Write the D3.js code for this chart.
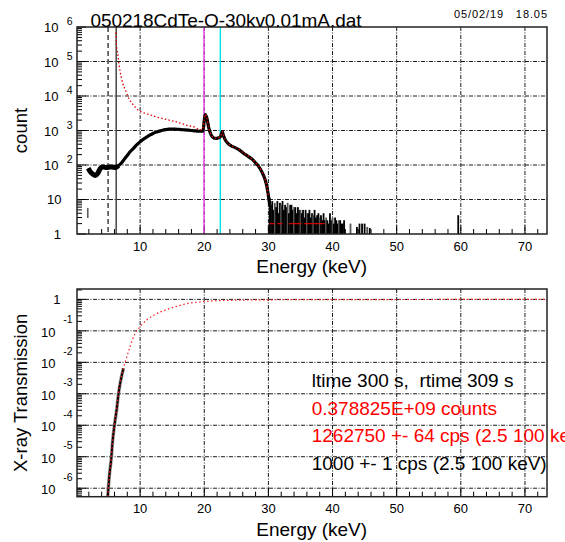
<!DOCTYPE html>
<html><head><meta charset="utf-8">
<script src="https://cdn.jsdelivr.net/npm/d3@7"></script>
<style>html,body{margin:0;padding:0;background:#fff;} svg{display:block;font-family:"Liberation Sans",Arial,Helvetica,sans-serif;} text{white-space:pre;}</style>
</head><body><svg id="c" width="565" height="542"></svg>
<script>
// ---------------- DATA ----------------
const spectrumE = [1.9,2.2,2.6,3.0,3.4,3.8,4.2,4.6,5.0,5.4,5.8,6.2,6.6,7.0,7.5,8.0,8.5,9.0,9.5,10.0,10.5,11.0,11.5,12.0,12.5,13.0,13.5,14.0,14.5,15.0,15.5,16.0,16.5,17.0,17.5,18.0,18.5,19.0,19.5,19.8,20.0,20.15,20.4,20.7,21.0,21.3,21.7,22.1,22.5,22.8,23.0,23.3,23.7,24.2,24.8,25.5,26.1,26.8,27.5,28.0,28.5,29.0,29.5,29.8,30.0,30.2];
const spectrumCounts = [80,65,55,50,58,80,88,85,85,88,86,85,95,110,145,190,250,310,390,470,560,640,730,820,900,960,1020,1060,1090,1100,1100,1080,1060,1040,1020,1000,980,960,950,960,2000,2900,2300,1200,800,650,590,600,650,930,700,520,420,360,320,270,220,180,145,115,90,62,37,22,13,7];
const correctedE = [6.22,6.28,6.4,6.53,6.7,6.88,7.1,7.3,7.7,8.0,8.4,8.7,9.2,9.7,10.3,11.3,12.3,13.4,14.5,15.5,16.5,17.5,18.5,19.1,19.7,20.0,20.15,20.4,20.7,21.0,21.3,21.7,22.1,22.5,22.8,23.0,23.3,23.7,24.2,24.8,25.5,26.1,26.8,27.5,28.0,28.5,29.0,29.5,29.8,30.0];
const correctedCounts = [700000,350000,220000,155000,85000,50000,33000,23000,15000,10700,7600,6200,4800,3900,3400,2950,2550,2240,2000,1800,1580,1380,1250,1100,1050,2000,2950,2300,1200,810,660,600,610,660,940,710,530,430,365,325,275,225,185,148,118,92,63,38,22,13];
const noiseE = [30.2,30.4,30.6,30.8,31.0,31.2,31.4,31.6,31.8,32.0,32.2,32.4,32.6,32.8,33.0,33.2,33.4,33.6,33.8,34.0,34.2,34.4,34.6,34.8,35.0,35.2,35.4,35.6,35.8,36.0,36.2,36.4,36.6,36.8,37.0,37.2,37.4,37.6,37.8,38.0,38.2,38.4,38.6,38.8,39.0,39.2,39.4,39.6,39.8,40.0,40.2,40.4,40.6,40.8,41.0,41.2,41.4,41.6,41.8,42.8,43.8,44.2,44.6,45.0,45.4,45.8,59.6];
const noiseCounts = [11,7,9,5,8,6,9,4,8,7,9,5,7,6,8,4,7,7,5,6,6,4,6,5,5,4,5,3,5,4,4,5,3,4,3.5,5,3,3.5,4,3,3.5,2.5,4,2.5,3,2.5,2,4,2.5,3,2,3,2.5,2,2.5,2.5,2,2,2.5,2,1.6,2,2,2,1.6,1.5,3.5];
const noiseRedE = [30.4,30.8,31.6,32.0,33.4,33.8,34.2,34.6,35.0,35.8,36.2,36.6,37.0,37.4,37.8,38.2,38.6];
const noiseRedCounts = [2,2,2,2,2,2,2,2,2,2,2,2,2,2,2,2,2];
const spikeE = [1.85];
const spikeLow = [2.9];
const spikeHigh = [5.7];
const transE = [4.95,5.2,5.5,5.7,6.0,6.37,6.6,6.93,7.4,7.77,8.44,9.1,10.0,11.0,12.3,13.9,15.45,17.5,19.6,21.0,23.0,26.0,30.0,40.0,50.0,60.0,73.4];
const transValues = [5.4e-7,2.5e-6,8.9e-6,3e-5,1.02e-4,3.5e-4,9.1e-4,2.4e-3,6.5e-3,0.0117,0.0316,0.074,0.135,0.22,0.33,0.457,0.58,0.746,0.84,0.89,0.92,0.95,0.97,0.985,0.99,0.995,0.997];
const xTickValues = [10,20,30,40,50,60,70];
const countTickExp = [0,1,2,3,4,5,6];
const transTickExp = [0,-1,-2,-3,-4,-5,-6];
const markerE = [5.0, 6.26, 19.95, 22.5];
const titleText = "050218CdTe-O-30kv0.01mA.dat";
const dateText = "05/02/19   18.05";
const infoLines = ["ltime 300 s,  rtime 309 s","0.378825E+09 counts","1262750 +- 64 cps (2.5 100 keV)","1000 +- 1 cps (2.5 100 keV)"];

// ---------------- LAYOUT ----------------
const svg = d3.select("#c");
const L = 77, R = 547;
const T1 = 27, B1 = 234, T2 = 289, B2 = 496.7;
const x = d3.scaleLinear().domain([0.156, 73.44]).range([L, R]);
const y1 = d3.scaleLog().domain([1, 1e6]).range([B1, T1]);
const y2 = d3.scaleLog().domain([Math.pow(10,-6.27), Math.pow(10,0.33)]).range([B2, T2]);
const gridDash = "4,1.5,1,1.5";

const defs = svg.append("defs");
defs.append("clipPath").attr("id","clip1").append("rect").attr("x",L).attr("y",T1).attr("width",R-L).attr("height",B1-T1);
defs.append("clipPath").attr("id","clip2").append("rect").attr("x",L).attr("y",T2).attr("width",R-L).attr("height",B2-T2);

function panel(y, top, bottom, decadeLo, decadeHi) {
  const g = svg.append("g");
  g.selectAll(".gx").data(xTickValues).enter().append("line")
    .attr("x1",d=>x(d)).attr("x2",d=>x(d)).attr("y1",top).attr("y2",bottom)
    .attr("stroke","#000").attr("stroke-width",0.9).attr("stroke-dasharray",gridDash);
  const yMajor = [];
  for (let d = decadeLo; d <= decadeHi; d++) { const v = Math.pow(10,d); const py = y(v); if (py > top+1 && py < bottom-1) yMajor.push(v); }
  g.selectAll(".gy").data(yMajor).enter().append("line")
    .attr("x1",L).attr("x2",R).attr("y1",d=>y(d)).attr("y2",d=>y(d))
    .attr("stroke","#000").attr("stroke-width",0.9).attr("stroke-dasharray",gridDash);
  const yt = [];
  for (let d = decadeLo-1; d <= decadeHi; d++) for (let k = 1; k <= 9; k++) {
    const v = k*Math.pow(10,d); const py = y(v);
    if (py >= top && py <= bottom) yt.push({v, major:k===1});
  }
  g.selectAll(".yt").data(yt).enter().append("line")
    .attr("x1",L).attr("x2",d=>L+(d.major?9:5)).attr("y1",d=>y(d.v)).attr("y2",d=>y(d.v))
    .attr("stroke","#000").attr("stroke-width",1);
  const xt = d3.range(2, 74, 2);
  g.selectAll(".xt").data(xt).enter().append("line")
    .attr("x1",d=>x(d)).attr("x2",d=>x(d)).attr("y1",bottom).attr("y2",d=>bottom-(d%10===0?9:5))
    .attr("stroke","#000").attr("stroke-width",1);
  g.selectAll(".xl").data(xTickValues).enter().append("text")
    .attr("x",d=>x(d)).attr("y",bottom+16.5).attr("text-anchor","middle")
    .attr("font-size",13).text(d=>d);
  return g;
}

panel(y1, T1, B1, 0, 6);
panel(y2, T2, B2, -6, 0);

countTickExp.forEach(e => {
  const py = y1(Math.pow(10,e));
  if (e === 0) svg.append("text").attr("x",61).attr("y",py+5).attr("text-anchor","end").attr("font-size",13).text("1");
  else if (e === 1) svg.append("text").attr("x",61.5).attr("y",py+4.5).attr("text-anchor","end").attr("font-size",13).text("10");
  else {
    svg.append("text").attr("x",58.5).attr("y",py+5).attr("text-anchor","end").attr("font-size",13).text("10");
    svg.append("text").attr("x",72.5).attr("y",py-2).attr("text-anchor","end").attr("font-size",10.5).text(e);
  }
});
transTickExp.forEach(e => {
  const py = y2(Math.pow(10,e));
  if (e === 0) svg.append("text").attr("x",60.5).attr("y",py+5).attr("text-anchor","end").attr("font-size",13).text("1");
  else {
    svg.append("text").attr("x",55.5).attr("y",py+6).attr("text-anchor","end").attr("font-size",13).text("10");
    svg.append("text").attr("x",72.5).attr("y",py-7.5).attr("text-anchor","end").attr("font-size",10.5).text(e);
  }
});

// ---------------- TOP DATA ----------------
const d1 = svg.append("g").attr("clip-path","url(#clip1)");
const mColors = ["#000","#000","#f040f0","#00e0ea"];
markerE.forEach((e,i) => {
  d1.append("line").attr("x1",x(e)).attr("x2",x(e)).attr("y1",T1).attr("y2",B1)
    .attr("stroke",mColors[i]).attr("stroke-width",i<2?1.1:1.4)
    .attr("stroke-dasharray", i===0 ? "5,3" : null);
});
d1.selectAll(".nb").data(noiseE.map((e,i)=>[e,noiseCounts[i]])).enter().append("rect")
  .attr("x",d=>x(d[0])-0.9).attr("width",1.8)
  .attr("y",d=>y1(d[1])).attr("height",d=>B1-y1(d[1]))
  .attr("fill",(d,i)=> i%5===4 ? "#555" : "#000");
d1.selectAll(".sp").data(spikeE.map((e,i)=>[e,spikeLow[i],spikeHigh[i]])).enter().append("line")
  .attr("x1",d=>x(d[0])).attr("x2",d=>x(d[0])).attr("y1",d=>y1(d[1])).attr("y2",d=>y1(d[2]))
  .attr("stroke","#000").attr("stroke-width",1);
const line1 = d3.line().x(d=>x(d[0])).y(d=>y1(d[1])).curve(d3.curveMonotoneX);
const specPts = spectrumE.map((e,i)=>[e,spectrumCounts[i]]);
d1.append("path").datum(specPts.filter(d=>d[0]<=6.6))
  .attr("d",line1).attr("fill","none").attr("stroke","#000").attr("stroke-width",5);
d1.append("path").datum(specPts)
  .attr("d",line1).attr("fill","none").attr("stroke","#000").attr("stroke-width",3.2);
d1.append("path").datum(correctedE.map((e,i)=>[e,correctedCounts[i]]))
  .attr("d",line1).attr("fill","none").attr("stroke","#e00000").attr("stroke-width",1.3)
  .attr("stroke-dasharray","1.5,2.2");
d1.selectAll(".nr").data(noiseRedE.map((e,i)=>[e,noiseRedCounts[i]])).enter().append("line")
  .attr("x1",d=>x(d[0])-1.2).attr("x2",d=>x(d[0])+1.2).attr("y1",d=>y1(d[1])).attr("y2",d=>y1(d[1]))
  .attr("stroke","#e00000").attr("stroke-width",1.3);

// ---------------- BOTTOM DATA ----------------
const d2 = svg.append("g").attr("clip-path","url(#clip2)");
const line2 = d3.line().x(d=>x(d[0])).y(d=>y2(d[1])).curve(d3.curveMonotoneX);
const tpts = transE.map((e,i)=>[e,transValues[i]]);
d2.append("path").datum(tpts.filter(d=>d[0]<=7.5)).attr("d",line2)
  .attr("fill","none").attr("stroke","#999").attr("stroke-width",3.5);
d2.append("path").datum(tpts.filter(d=>d[0]<=7.5)).attr("d",line2)
  .attr("fill","none").attr("stroke","#000").attr("stroke-width",2);
d2.append("path").datum(tpts).attr("d",line2)
  .attr("fill","none").attr("stroke","#ff2020").attr("stroke-width",1.2).attr("stroke-dasharray","1.5,2.5");

// ---------------- FRAMES ----------------
[[T1,B1],[T2,B2]].forEach(([t,b]) => svg.append("rect").attr("x",L).attr("y",t).attr("width",R-L).attr("height",b-t)
  .attr("fill","none").attr("stroke","#222").attr("stroke-width",1.5));

// ---------------- TEXT ----------------
svg.append("text").attr("x",90.5).attr("y",27).attr("font-size",19).attr("textLength",271).text(titleText);
svg.append("text").attr("x",454).attr("y",17.5).attr("font-size",11).attr("textLength",93).text(dateText);
svg.append("text").attr("x",311.7).attr("y",273.3).attr("text-anchor","middle").attr("font-size",19).text("Energy (keV)");
svg.append("text").attr("x",311.7).attr("y",536).attr("text-anchor","middle").attr("font-size",19).text("Energy (keV)");
svg.append("text").attr("transform",`translate(27,${(T1+B1)/2}) rotate(-90)`).attr("text-anchor","middle").attr("font-size",18.5).text("count");
svg.append("text").attr("transform",`translate(27,${(T2+B2)/2}) rotate(-90)`).attr("text-anchor","middle").attr("font-size",18.5).text("X-ray Transmission");
const infoColors = ["#000","#ff0000","#ff0000","#000"];
infoLines.forEach((s,i) => svg.append("text").attr("x",311.7).attr("y",386.7+i*27.8)
  .attr("font-size",19).attr("fill",infoColors[i]).text(s));
</script></body></html>
